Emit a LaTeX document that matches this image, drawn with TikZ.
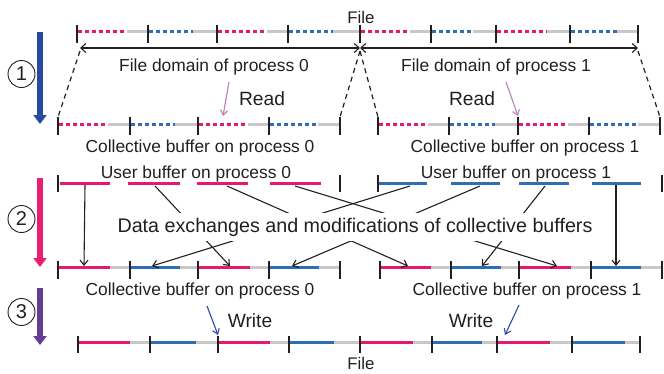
\documentclass[tikz,border=0pt]{standalone}
\usepackage{fontspec}
\setmainfont{Liberation Sans}
\usetikzlibrary{arrows.meta}
\definecolor{pk}{RGB}{230,25,110}
\definecolor{bl}{RGB}{45,110,180}
\definecolor{gr}{RGB}{200,200,200}
\definecolor{txt}{RGB}{35,31,32}
\definecolor{stepone}{RGB}{40,75,155}
\definecolor{steptwo}{RGB}{232,30,115}
\definecolor{stepthree}{RGB}{100,60,150}
\definecolor{readc}{RGB}{190,125,190}
\definecolor{writec}{RGB}{42,74,165}
\begin{document}
\begin{tikzpicture}[x=1pt,y=-1pt,
  tickln/.style={draw=txt,line width=2.4pt},
  pdot/.style={draw=pk,line width=3pt,dash pattern=on 3.5pt off 3.5pt},
  bdot/.style={draw=bl,line width=3pt,dash pattern=on 3.5pt off 3.5pt},
  pseg/.style={draw=pk,line width=3pt},
  bseg/.style={draw=bl,line width=3pt},
  gseg/.style={draw=gr,line width=3pt},
  lab/.style={text=txt,anchor=base,inner sep=0pt,font=\fontsize{17.4}{20}\selectfont},
  biglab/.style={text=txt,anchor=base,inner sep=0pt,font=\fontsize{19.2}{22}\selectfont},
  xarr/.style={draw=txt,line width=1.1pt,-{Straight Barb[length=5pt,width=8pt]}},
  dasharr/.style={draw=txt,line width=1.2pt,dash pattern=on 5pt off 4pt},
  steparr/.style={line width=5.5pt,-{Triangle[length=9pt,width=13pt]}},
  stepnum/.style={circle,draw=txt,line width=0.9pt,minimum size=27pt,inner sep=0pt,text=txt,font=\fontsize{20}{22}\selectfont}
]
\useasboundingbox (0,0) rectangle (664,373);

% ---------- Row 1: file (dotted) ----------
\foreach \a/\b/\c/\s in {77/127/148/pdot,148/193/217/bdot,217/267/288/pdot,288/333/360/bdot,360/410/431/pdot,431/473/496/bdot,496/547/570/pdot,570/617/638/bdot}{
  \draw[\s] (\a+1,31) -- (\b,31);
  \draw[gseg] (\b,31) -- (\c,31);
}
\foreach \x in {77,148,217,288,360,431,496,570,638} \draw[tickln] (\x,25) -- (\x,43);
\node[lab,font=\fontsize{16.8}{19}\selectfont] (file1) at (361,23) {File};

% domains
\coordinate (fdL) at (80,48);
\coordinate (fdM) at (360,48);
\coordinate (fdR) at (638,48);
\draw[draw=txt,line width=1.1pt,{Straight Barb[length=5pt,width=9pt]}-{Straight Barb[length=5pt,width=9pt]}] (fdL) -- (fdM);
\draw[draw=txt,line width=1.1pt,{Straight Barb[length=5pt,width=9pt]}-{Straight Barb[length=5pt,width=9pt]}] (fdM) -- (fdR);
\node[lab] (fd0) at (214,71) {File domain of process 0};
\node[lab] (fd1) at (496,71) {File domain of process 1};

% ---------- Row 2: collective buffers (dotted) ----------
\foreach \a/\b/\c/\s in {58/108/130/pdot,130/175/198/bdot,198/248/269/pdot,269/318/340/bdot,378/428/449/pdot,449/495/518/bdot,518/568/589/pdot,589/638/660/bdot}{
  \draw[\s] (\a+1,124) -- (\b,124);
  \draw[gseg] (\b,124) -- (\c,124);
}
\foreach \x in {58,130,198,269,340,378,449,518,589,660} \draw[tickln] (\x,117) -- (\x,135);
\coordinate (cL0) at (58,117);
\coordinate (cR0) at (340,117);
\coordinate (cL1) at (378,117);
\coordinate (cR1) at (660,117);
\coordinate (dL) at (80,51);
\coordinate (dM) at (360,51);
\coordinate (dR) at (638,51);
\draw[dasharr] (dL) -- (cL0);
\draw[dasharr] (dM) -- (cR0);
\draw[dasharr] (dM) -- (cL1);
\draw[dasharr] (dR) -- (cR1);

\node[biglab] (read0) at (262,105) {Read};
\node[biglab] (read1) at (472,105) {Read};
\coordinate (r0s) at (229,82);
\coordinate (r0e) at (223,116);
\coordinate (r1s) at (506,82);
\coordinate (r1e) at (518,116);
\draw[draw=readc,line width=1.1pt,-{Straight Barb[length=5pt,width=7pt]}] (r0s) -- (r0e);
\draw[draw=readc,line width=1.1pt,-{Straight Barb[length=5pt,width=7pt]}] (r1s) -- (r1e);

\node[lab] (cb0a) at (200,152) {Collective buffer on process 0};
\node[lab] (cb1a) at (525,152) {Collective buffer on process 1};

% ---------- Row 3: user buffers ----------
\foreach \a/\b in {60/110,128/180,197/248,270/321} \draw[pseg] (\a,183) -- (\b,183);
\foreach \a/\b in {378/427,451/500,519/569,592/641} \draw[bseg] (\a,183) -- (\b,183);
\foreach \x in {58,340,378,662} \draw[tickln] (\x,175) -- (\x,192);
\node[lab] (ub0) at (196,178) {User buffer on process 0};
\node[lab] (ub1) at (516,178) {User buffer on process 1};

% ---------- Row 4: collective buffers after exchange ----------
\foreach \a/\b/\c/\s in {58/110/130/pseg,130/180/198/bseg,198/250/269/pseg,269/319/340/bseg,380/431/451/pseg,451/501/519/bseg,519/571/591/pseg,591/641/662/bseg}{
  \draw[\s] (\a+1,267) -- (\b,267);
  \draw[gseg] (\b,267) -- (\c,267);
}
\foreach \x in {58,130,198,269,340,380,451,519,591,662} \draw[tickln] (\x,261) -- (\x,279);

% exchange arrows
\coordinate (ua1) at (85,185);   \coordinate (ca1) at (84,266);
\coordinate (ua2) at (155,186);  \coordinate (ca3) at (230,266);
\coordinate (ua3) at (227,186);  \coordinate (cb1) at (408,266);
\coordinate (ua4) at (295,186);  \coordinate (cb3) at (557,266);
\coordinate (ub1) at (410,186);  \coordinate (ca2) at (152,266);
\coordinate (ub2) at (480,186);  \coordinate (ca4) at (292,266);
\coordinate (ub3) at (545,186);  \coordinate (cb2) at (482,266);
\coordinate (ub4) at (616,185);  \coordinate (cb4) at (616,266);
\draw[xarr] (ua1) -- (ca1);
\draw[xarr] (ua2) -- (ca3);
\draw[xarr] (ua3) -- (cb1);
\draw[xarr] (ua4) -- (cb3);
\draw[xarr] (ub1) -- (ca2);
\draw[xarr] (ub2) -- (ca4);
\draw[xarr] (ub3) -- (cb2);
\draw[xarr] (ub4) -- (cb4);
\node[text=txt,anchor=base,fill=white,inner xsep=3pt,inner ysep=5pt,font=\fontsize{19.7}{23}\selectfont] (dx) at (355,232) {Data exchanges and modifications of collective buffers};

\node[lab] (cb0b) at (200,295) {Collective buffer on process 0};
\node[lab] (cb1b) at (527,295) {Collective buffer on process 1};

% ---------- Row 5: file written ----------
\foreach \a/\b/\c/\s in {78/130/150/pseg,150/196/218/bseg,218/270/289/pseg,289/334/360/bseg,360/413/432/pseg,432/482/497/bseg,497/550/572/pseg,572/625/640/bseg}{
  \draw[\s] (\a+1,342) -- (\b,342);
  \draw[gseg] (\b,342) -- (\c,342);
}
\foreach \x in {78,150,218,289,360,432,497,572,640} \draw[tickln] (\x,336) -- (\x,353);
\node[biglab] (write0) at (250,327) {Write};
\node[biglab] (write1) at (471,327) {Write};
\coordinate (w0s) at (207,306);
\coordinate (w0e) at (218,335);
\coordinate (w1s) at (519,305);
\coordinate (w1e) at (505,335);
\draw[draw=writec,line width=1.1pt,-{Straight Barb[length=5pt,width=7pt]}] (w0s) -- (w0e);
\draw[draw=writec,line width=1.1pt,-{Straight Barb[length=5pt,width=7pt]}] (w1s) -- (w1e);
\node[lab,font=\fontsize{16.8}{19}\selectfont] (file2) at (361,369) {File};

% ---------- step markers ----------
\coordinate (s1a) at (40,32);  \coordinate (s1b) at (40,124);
\coordinate (s2a) at (40,178); \coordinate (s2b) at (40,267);
\coordinate (s3a) at (40,288); \coordinate (s3b) at (40,345);
\draw[steparr,draw=stepone,fill=stepone] (s1a) -- (s1b);
\draw[steparr,draw=steptwo,fill=steptwo] (s2a) -- (s2b);
\draw[steparr,draw=stepthree,fill=stepthree] (s3a) -- (s3b);
\node[stepnum] (n1) at (21.5,74) {1};
\node[stepnum] (n2) at (21.5,219) {2};
\node[stepnum] (n3) at (21.5,312) {3};
\end{tikzpicture}
\end{document}
